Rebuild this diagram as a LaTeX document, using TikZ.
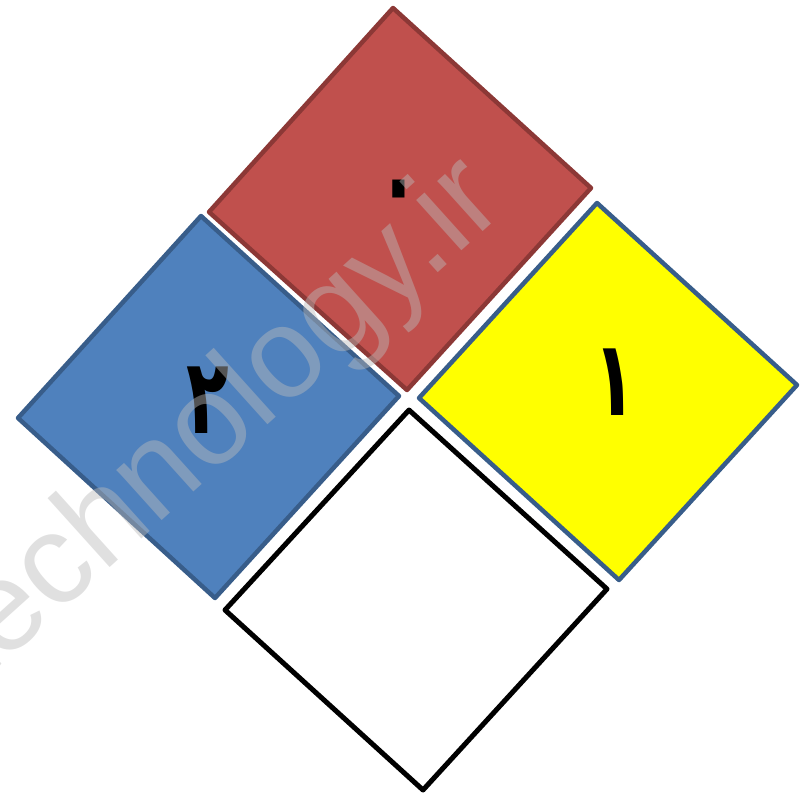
\documentclass[tikz,border=0pt]{standalone}
\usepackage{fontspec}
\usepackage{graphicx}
\setmainfont{Liberation Sans}
\newfontfamily\arabicfont[Script=Arabic]{DejaVu Sans}
\definecolor{redfill}{RGB}{192,80,77}
\definecolor{redline}{RGB}{140,56,54}
\definecolor{bluefill}{RGB}{79,129,189}
\definecolor{blueline}{RGB}{56,93,138}
\definecolor{yfill}{RGB}{255,255,0}
\definecolor{wmgray}{RGB}{187,187,187}
\newcommand{\narrowdigit}[1]{\scalebox{0.7}[1.05]{#1}}
\tikzset{
  sq/.style={line width=4.5pt, line join=round},
  digit/.style={inner sep=0pt, font=\arabicfont\bfseries\fontsize{100}{100}\selectfont},
  wmark/.style={inner sep=0pt, text=wmgray, text opacity=0.45, font=\fontsize{128}{128}\selectfont}
}
\begin{document}
\begin{tikzpicture}[x=1pt,y=-1pt]
\useasboundingbox (0,0) rectangle (800,796);
\clip (0,0) rectangle (800,796);
\draw[sq, fill=redfill, draw=redline] (393,8) -- (591,188) -- (407,390) -- (209,212) -- cycle;
\draw[sq, fill=bluefill, draw=blueline] (201,216) -- (399,396) -- (215,598) -- (18,418) -- cycle;
\draw[sq, fill=yfill, draw=blueline] (597,203) -- (797,385) -- (619,580) -- (419,398) -- cycle;
\draw[sq, line width=5pt, fill=white, draw=black] (409,410) -- (607,589) -- (423,790) -- (225,610) -- cycle;
\node[digit] (d0) at (399,199) {\narrowdigit{۰}};
\node[digit] (d2) at (208,400) {\narrowdigit{۲}};
\node[digit] (d1) at (615,382) {\narrowdigit{۱}};
\node[wmark, rotate=42, anchor=base west] (wm) at (-24,688) {technology.ir};
\end{tikzpicture}
\end{document}
